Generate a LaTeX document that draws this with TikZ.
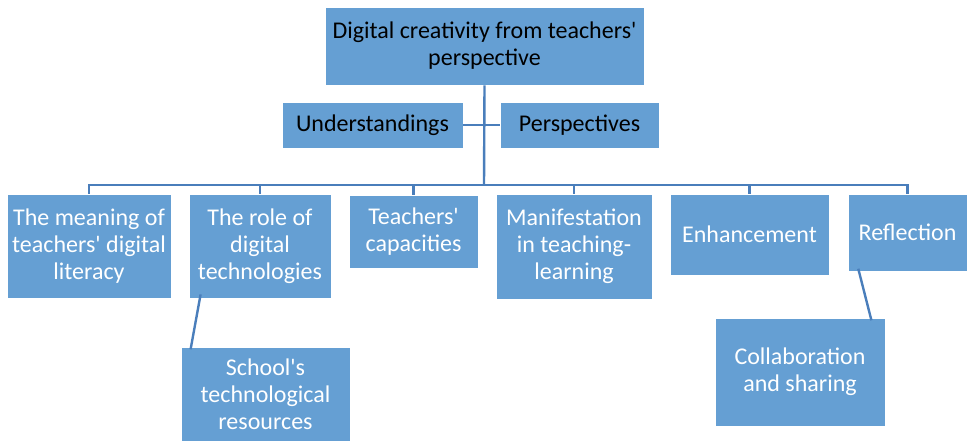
\documentclass[tikz,border=0pt]{standalone}
\usepackage{fontspec}
\setmainfont{Carlito}
\usepackage{xcolor}
\usepackage{tikz}

\definecolor{boxblue}{RGB}{101,159,211}
\definecolor{linkblue}{RGB}{74,126,187}

\begin{document}
\begin{tikzpicture}[x=0.75pt,y=0.75pt,yscale=-1,xscale=1,
  box/.style 2 args={fill=boxblue,draw=white,line width=0.6pt,inner sep=2pt,
    align=center,font=\fontsize{18}{20.2}\selectfont,
    minimum width={#1*0.75pt},minimum height={#2*0.75pt}},
  dark/.style={text=black},
  light/.style={text=white},
  link/.style={draw=linkblue,line width=1.8pt}]
\useasboundingbox (0,0) rectangle (967,440);

%Shape: top of the tree
\node [box={319}{78},dark] (top) at (484.5,46) {Digital creativity from teachers\textquotesingle\\perspective};
\node [box={181}{46},dark] (und) at (372.5,125) {Understandings};
\node [box={159}{46},dark] (per) at (579.5,125) {Perspectives};

%Shape: second row
\node [box={164}{104},light] (meaning) at (89,246) {The meaning of\\teachers\textquotesingle{} digital\\literacy};
\node [box={142}{104},light] (role) at (260,246) {The role of\\digital\\technologies};
\node [box={129}{73},light] (capac) at (413.5,231.5) {Teachers\textquotesingle\\capacities};
\node [box={156}{105},light] (manif) at (574,246.5) {Manifestation\\in teaching-\\learning};
\node [box={159}{81},light] (enhance) at (749.5,234.5) {Enhancement};
\node [box={119}{77},light] (reflect) at (907.5,232.5) {Reflection};

%Shape: third row
\node [box={169}{94},light] (school) at (265.5,394) {School\textquotesingle s\\technological\\resources};
\node [box={170}{108},light] (collab) at (800,372) {Collaboration\\and sharing};

%Straight Lines: trunk and bus
\coordinate (bus) at (484,185);
\draw [link] (top.south) -- (bus);
\draw [link] (und.east) -- (per.west);
\foreach \child in {meaning,role,capac,manif,enhance,reflect}
  \draw [link] (bus) -| (\child.north);

%Straight Lines: side branches
\draw [link] ([xshift=9pt,yshift=-3pt]role.south west) -- ([xshift=7.5pt,yshift=2pt]school.north west);
\draw [link] ([xshift=8pt,yshift=-2pt]reflect.south west) -- ([xshift=-10.5pt,yshift=2pt]collab.north east);
\end{tikzpicture}
\end{document}
